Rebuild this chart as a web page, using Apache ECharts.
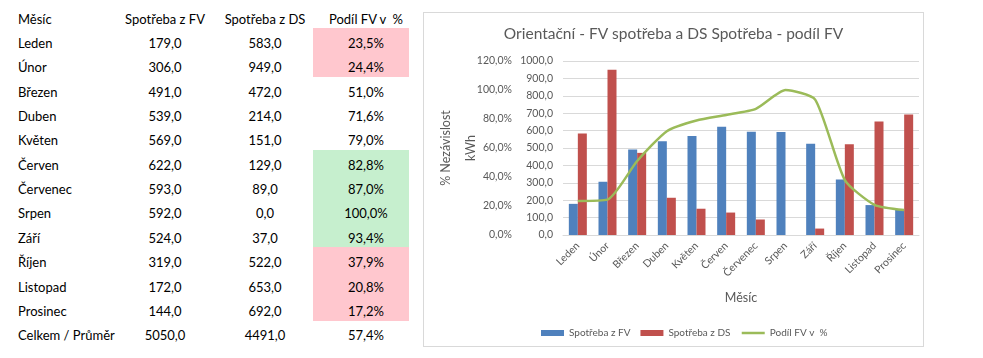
<!DOCTYPE html>
<html><head><meta charset="utf-8">
<script src="https://cdn.jsdelivr.net/npm/echarts@6/dist/echarts.min.js"></script>
<style>
html,body{margin:0;padding:0;background:#fff;width:983px;height:358px;overflow:hidden;font-family:Lato,"Open Sans",sans-serif;}
#tbl{position:absolute;left:0;top:0;width:420px;height:358px;}
.c{position:absolute;height:24px;line-height:24px;font-size:13px;color:#000;white-space:pre;}
.bg{position:absolute;}
#chart{position:absolute;left:423px;top:12px;width:501px;height:335px;border:1px solid #d9d9d9;box-sizing:border-box;}
</style></head><body>
<div id="tbl"></div>
<div id="chart"></div>
<script>
const headers = ['Měsíc','Spotřeba z FV','Spotřeba z DS','Podíl FV v  %'];
const months = ['Leden','Únor','Březen','Duben','Květen','Červen','Červenec','Srpen','Září','Říjen','Listopad','Prosinec'];
const fvValues = [179,306,491,539,569,622,593,592,524,319,172,144];
const dsValues = [583,949,472,214,151,129,89,0,37,522,653,692];
const sharePct = [23.5,24.4,51.0,71.6,79.0,82.8,87.0,100.0,93.4,37.9,20.8,17.2];
const totalLabel = 'Celkem / Průměr';
const totalFv = 5050;
const totalDs = 4491;
const totalPct = 57.4;
const kwhTicks = [0,100,200,300,400,500,600,700,800,900,1000];
const pctTicks = [0,20,40,60,80,100,120];

const fmt1 = v => v.toFixed(1).replace('.', ',');
const tbl = document.getElementById('tbl');
function cell(text, x, cy, align){
  const d = document.createElement('div');
  d.className = 'c';
  d.textContent = text;
  d.style.top = (cy - 12) + 'px';
  if (align === 'left') { d.style.left = x + 'px'; }
  else { d.style.left = (x - 60) + 'px'; d.style.width = '120px'; d.style.textAlign = 'center'; }
  tbl.appendChild(d);
}
const rowH = 24.35;
sharePct.forEach((p, i) => {
  let col = null;
  if (p < 40) col = '#FFC7CE';
  else if (p > 80) col = '#C6EFCE';
  if (col) {
    const b = document.createElement('div');
    b.className = 'bg';
    b.style.left = '313px'; b.style.width = '96px';
    b.style.top = (28 + i * rowH) + 'px';
    b.style.height = (rowH + 0.5) + 'px';
    b.style.background = col;
    tbl.appendChild(b);
  }
});
const colX = [18, 165, 265, 366];
cell(headers[0], colX[0], 19, 'left');
cell(headers[1], colX[1], 19);
cell(headers[2], colX[2], 19);
cell(headers[3], colX[3], 19);
months.forEach((m, i) => {
  const cy = 43 + i * rowH;
  cell(m, colX[0], cy, 'left');
  cell(fmt1(fvValues[i]), colX[1], cy);
  cell(fmt1(dsValues[i]), colX[2], cy);
  cell(fmt1(sharePct[i]) + '%', colX[3], cy);
});
const cyT = 43 + 12 * rowH;
cell(totalLabel, colX[0], cyT, 'left');
cell(fmt1(totalFv), colX[1], cyT);
cell(fmt1(totalDs), colX[2], cyT);
cell(fmt1(totalPct) + '%', colX[3], cyT);

const chart = echarts.init(document.getElementById('chart'), null, {renderer:'canvas'});
const gray = '#595959';
const font = 'Lato, "Open Sans", sans-serif';
chart.setOption({
  animation: false,
  textStyle: {fontFamily: font},
  title: {
    text: 'Orientační - FV spotřeba a DS Spotřeba - podíl FV',
    left: 'center', top: 8,
    textStyle: {fontSize: 15.5, fontWeight: 'normal', color: gray, fontFamily: font}
  },
  legend: {
    left: 112, top: 310,
    itemWidth: 23, itemHeight: 6, itemGap: 10,
    textStyle: {fontSize: 10, color: gray, fontFamily: font},
    data: [
      {name: 'Spotřeba z FV', icon: 'rect'},
      {name: 'Spotřeba z DS', icon: 'rect'},
      {name: 'Podíl FV v  %', itemStyle: {opacity: 0}, lineStyle: {color: '#9BBB59', width: 2.5}}
    ]
  },
  grid: {left: 139, right: 4, top: 48, bottom: 111, containLabel: false},
  xAxis: {
    type: 'category',
    data: months,
    name: 'Měsíc', nameLocation: 'middle', nameGap: 56,
    nameTextStyle: {fontSize: 12.5, color: gray},
    axisLine: {lineStyle: {color: '#d9d9d9'}},
    axisTick: {show: false},
    axisLabel: {rotate: 45, fontSize: 10.5, color: gray, interval: 0, margin: 9}
  },
  yAxis: [
    {
      type: 'value', min: kwhTicks[0], max: kwhTicks[kwhTicks.length-1], interval: 100,
      position: 'left',
      name: 'kWh', nameLocation: 'middle', nameGap: 86, nameRotate: 90,
      nameTextStyle: {fontSize: 12.5, color: gray},
      axisLine: {show: false}, axisTick: {show: false},
      axisLabel: {fontSize: 10.5, color: gray, margin: 10, formatter: v => fmt1(v)},
      splitLine: {lineStyle: {color: '#d9d9d9'}}
    },
    {
      type: 'value', min: pctTicks[0], max: pctTicks[pctTicks.length-1], interval: 20,
      position: 'left', offset: 41,
      name: '% Nezávislost', nameLocation: 'middle', nameGap: 70, nameRotate: 90,
      nameTextStyle: {fontSize: 12.5, color: gray},
      axisLine: {show: false}, axisTick: {show: false},
      axisLabel: {fontSize: 10.5, color: gray, margin: 10, formatter: v => fmt1(v) + '%'},
      splitLine: {show: false}
    }
  ],
  series: [
    {name: 'Spotřeba z FV', type: 'bar', data: fvValues, barWidth: 9, barGap: '0%', itemStyle: {color: '#4F81BD'}, yAxisIndex: 0},
    {name: 'Spotřeba z DS', type: 'bar', data: dsValues, barWidth: 9, barGap: '0%', itemStyle: {color: '#C0504D'}, yAxisIndex: 0},
    {name: 'Podíl FV v  %', type: 'line', data: sharePct, yAxisIndex: 1, smooth: 0.2, showSymbol: false, symbol: 'none',
     lineStyle: {color: '#9BBB59', width: 2.5}, itemStyle: {color: '#9BBB59'}}
  ]
});
</script>
</body></html>
